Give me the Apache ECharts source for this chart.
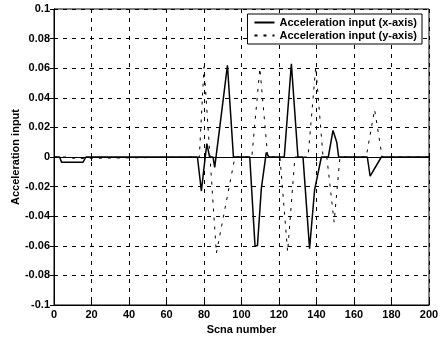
<!DOCTYPE html>
<html>
<head>
<meta charset="utf-8">
<script src="https://cdn.jsdelivr.net/npm/echarts@6/dist/echarts.min.js"></script>
<style>
html,body{margin:0;padding:0;background:#fff;}
#c{width:443px;height:339px;}
</style>
</head>
<body>
<div id="c"></div>
<script>
// Series: acceleration input along x-axis (solid)
var xSolidScan = [0, 3, 4, 15.5, 17, 76.5, 78.6, 80.3, 81.5, 83, 84.8, 85.7, 88.4, 92.5, 95.7, 104.4, 107.2, 108.5, 110.6, 113.2, 114.6, 122.8, 126.6, 130.1, 132.8, 136.3, 139, 142.6, 146.3, 148.8, 150.8, 151.8, 167.1, 168.6, 174.6, 200];
var xSolidValue = [0, 0, -0.0035, -0.0035, 0, 0, -0.023, -0.004, 0.009, 0, 0, -0.007, 0.02, 0.062, 0, 0, -0.06, -0.06, -0.021, 0.003, 0, 0, 0.063, 0, 0, -0.062, -0.022, 0, 0, 0.018, 0.01, 0, 0, -0.013, 0, 0];
// Series: acceleration input along y-axis (dashed)
var yDashScan = [0, 7, 8, 11, 12, 77.5, 80, 86.6, 96.5, 105.5, 109.8, 114, 120.5, 124.6, 128.5, 135.5, 139.6, 143.5, 145.5, 149.4, 152.5, 166.5, 171, 175, 200];
var yDashValue = [0, 0, -0.001, -0.001, 0, 0, 0.061, -0.065, 0, 0, 0.06, 0, 0, -0.064, 0, 0, 0.061, 0, 0, -0.044, 0, 0, 0.032, 0, 0];

var seriesNames = ['Acceleration input (x-axis)', 'Acceleration input (y-axis)'];
var xTickLabels = ['0', '20', '40', '60', '80', '100', '120', '140', '160', '180', '200'];
var yTickLabels = ['-0.1', '-0.08', '-0.06', '-0.04', '-0.02', '0', '0.02', '0.04', '0.06', '0.08', '0.1'];
var xTitle = 'Scna number';
var yTitle = 'Acceleration input';

function pairs(xs, ys) { return xs.map(function (x, i) { return [x, ys[i]]; }); }
function yFmt(v) { var i = Math.round((v + 0.1) / 0.02); return yTickLabels[i] !== undefined ? yTickLabels[i] : ''; }
function xFmt(v) { var i = Math.round(v / 20); return xTickLabels[i] !== undefined ? xTickLabels[i] : ''; }

var font = 'Liberation Sans, Arial, sans-serif';
var gridLine = { show: true, lineStyle: { color: '#000', type: [4, 5], width: 1 } };
var chart = echarts.init(document.getElementById('c'), null, { renderer: 'canvas' });
chart.setOption({
  backgroundColor: '#fff',
  animation: false,
  grid: { left: 54, right: 14, top: 9, bottom: 34, show: true, borderColor: '#000', borderWidth: 1, containLabel: false, outerBoundsMode: 'none' },
  legend: {
    orient: 'vertical', right: 21, top: 14,
    data: seriesNames,
    backgroundColor: '#fff', borderColor: '#000', borderWidth: 1,
    padding: [3, 5, 3, 6], itemGap: 2, itemWidth: 20, itemHeight: 10,
    itemStyle: { opacity: 0 },
    textStyle: { fontFamily: font, fontSize: 11, fontWeight: 'bold', color: '#000' }
  },
  xAxis: [{
    type: 'value', min: 0, max: 200, interval: 20,
    name: xTitle, nameLocation: 'middle', nameGap: 19, nameMoveOverlap: false,
    nameTextStyle: { fontFamily: font, fontSize: 11, fontWeight: 'bold', color: '#000' },
    axisLine: { show: true, onZero: false, lineStyle: { color: '#000', width: 1 } },
    axisTick: { show: true, inside: true, length: 4, lineStyle: { color: '#000' } },
    axisLabel: { formatter: xFmt, fontFamily: font, fontSize: 11, fontWeight: 'bold', color: '#000', margin: 4 },
    splitLine: gridLine
  }, {
    type: 'value', position: 'top', min: 0, max: 200, interval: 20,
    axisLine: { show: true, lineStyle: { color: '#000' } },
    axisTick: { show: true, inside: true, length: 4, lineStyle: { color: '#000' } },
    axisLabel: { show: false }, splitLine: { show: false }
  }],
  yAxis: [{
    type: 'value', min: -0.1, max: 0.1, interval: 0.02,
    name: yTitle, nameLocation: 'middle', nameGap: 33, nameRotate: 90, nameMoveOverlap: false,
    nameTextStyle: { fontFamily: font, fontSize: 11, fontWeight: 'bold', color: '#000' },
    axisLine: { show: true, onZero: false, lineStyle: { color: '#000', width: 1 } },
    axisTick: { show: true, inside: true, length: 4, lineStyle: { color: '#000' } },
    axisLabel: { formatter: yFmt, fontFamily: font, fontSize: 11, fontWeight: 'bold', color: '#000', margin: 4 },
    splitLine: gridLine
  }, {
    type: 'value', position: 'right', min: -0.1, max: 0.1, interval: 0.02,
    axisLine: { show: true, lineStyle: { color: '#000' } },
    axisTick: { show: true, inside: true, length: 4, lineStyle: { color: '#000' } },
    axisLabel: { show: false }, splitLine: { show: false }
  }],
  series: [{
    name: seriesNames[0], type: 'line', showSymbol: false, symbol: 'none',
    data: pairs(xSolidScan, xSolidValue),
    lineStyle: { color: '#000', width: 1.5, type: 'solid' },
    itemStyle: { color: '#000' }, z: 3
  }, {
    name: seriesNames[1], type: 'line', showSymbol: false, symbol: 'none',
    data: pairs(yDashScan, yDashValue),
    lineStyle: { color: '#000', width: 1, type: [3, 6] },
    itemStyle: { color: '#000' }, z: 2
  }]
});
</script>
</body>
</html>
